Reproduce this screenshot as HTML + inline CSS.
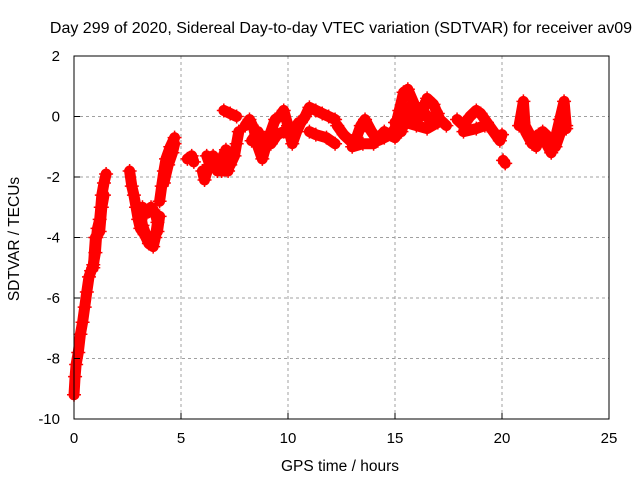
<!DOCTYPE html>
<html><head><meta charset="utf-8"><style>
body{margin:0;background:#fff;}
svg{display:block;font-family:"Liberation Sans",sans-serif;}
</style></head><body>
<svg id="chart" width="640" height="480" viewBox="0 0 640 480" xmlns="http://www.w3.org/2000/svg">
<text x="341" y="33" font-size="16" text-anchor="middle">Day 299 of 2020, Sidereal Day-to-day VTEC variation (SDTVAR) for receiver av09</text>
<g id="grid"></g>
<g id="marks"></g>
<rect x="74" y="56" width="535" height="363" fill="none" stroke="#000" stroke-width="1"/>
<g id="axes"></g>
<text x="340" y="471" font-size="15.5" text-anchor="middle">GPS time / hours</text>
<text x="19" y="239" font-size="15.5" text-anchor="middle" transform="rotate(-90 19 239)">SDTVAR / TECUs</text>
</svg>
<script>
const xTicks=[0,5,10,15,20,25];
const yTicks=[-10,-8,-6,-4,-2,0,2];
const track1=[[0,-9.2],[0.05,-8.6],[0.1,-8.2],[0.2,-7.8],[0.3,-7.2],[0.4,-6.8],[0.5,-6.3],[0.6,-5.8],[0.7,-5.3],[0.8,-5.1],[0.9,-4.9],[1.0,-4.5],[1.05,-4.0],[1.1,-3.7],[1.2,-3.4],[1.25,-3.0],[1.3,-2.6],[1.4,-2.2],[1.5,-1.9]];
const track1b=[[0.9,-5.0],[1.0,-4.0],[1.2,-3.8],[1.3,-3.0],[1.4,-2.6]];
const track2=[[2.6,-1.8],[2.7,-2.3],[2.8,-2.6],[2.9,-3.0],[3.0,-3.4],[3.1,-3.7],[3.3,-3.9],[3.5,-4.2],[3.7,-4.3],[3.8,-4.0],[3.9,-3.5],[3.8,-3.2],[3.6,-3.0],[3.4,-3.2],[3.2,-3.0]];
const track2b=[[3.1,-3.2],[3.2,-3.6],[3.4,-4.0],[3.6,-4.1],[3.9,-3.8],[4.0,-3.3]];
const track3=[[4.0,-2.8],[4.1,-2.3],[4.2,-1.8],[4.3,-1.4],[4.5,-1.0],[4.7,-0.7]];
const track3b=[[4.2,-2.2],[4.4,-1.6],[4.6,-1.2],[4.7,-0.9]];
const track4=[[5.3,-1.4],[5.5,-1.3],[5.6,-1.5]];
const track5=[[6.0,-1.8],[6.1,-2.1],[6.3,-1.6],[6.5,-1.3],[6.7,-1.8],[6.9,-1.4],[7.1,-1.1],[7.3,-1.6],[7.5,-1.3],[7.6,-0.9],[7.7,-0.5]];
const track5b=[[6.2,-1.3],[6.4,-1.7],[6.6,-1.5],[6.9,-1.8],[7.2,-1.8],[7.4,-1.2]];
const track6=[[7.0,0.2],[7.3,0.1],[7.6,0.0]];
const track7=[[8.0,-0.3],[8.2,-0.1],[8.4,-0.4],[8.6,-1.0],[8.8,-1.4],[9.0,-0.9],[9.2,-0.5],[9.4,-0.1],[9.6,0.0],[9.8,0.2],[10.0,-0.3],[10.2,-0.9],[10.4,-0.5],[10.6,-0.2],[10.8,0.0],[11.0,0.3],[11.3,0.2],[11.6,0.1],[11.9,0.0],[12.2,-0.1]];
const track7b=[[8.3,-0.8],[8.6,-0.5],[8.9,-0.9],[9.2,-0.9],[9.5,-0.6],[9.8,-0.5],[10.1,-0.6],[10.5,-0.2]];
const track8=[[11.0,-0.5],[11.3,-0.6],[11.8,-0.7],[12.2,-0.9]];
const track9=[[12.3,-0.3],[12.6,-0.6],[12.9,-0.8],[13.2,-0.7],[13.4,-0.3],[13.6,-0.1],[13.9,-0.5],[14.2,-0.8],[14.5,-0.7],[14.8,-0.6],[15.0,-0.4],[15.2,0.2],[15.4,0.8],[15.6,0.9],[15.9,0.4],[16.2,0.0],[16.5,0.6],[16.8,0.4],[17.1,-0.1],[17.4,-0.3]];
const track10=[[13.0,-1.0],[13.5,-0.9],[14.0,-0.9],[14.5,-0.5],[15.0,-0.7],[15.5,-0.2],[16.0,-0.3],[16.5,-0.4],[17.0,-0.2]];
const track10b=[[15.0,-0.2],[15.3,-0.5],[15.6,0.3],[15.9,-0.1],[16.2,0.3],[16.6,-0.1],[17.0,0.1]];
const track11=[[17.9,-0.1],[18.2,-0.3],[18.5,0.0],[18.8,0.2],[19.0,0.1],[19.3,-0.2],[19.6,-0.5],[19.9,-0.8],[20.0,-0.6]];
const track12=[[18.2,-0.5],[18.8,-0.4],[19.2,-0.3]];
const track13=[[20.05,-1.45],[20.15,-1.55]];
const track14=[[20.8,-0.3],[21.0,0.5],[21.1,-0.5],[21.4,-0.9],[21.7,-0.6],[22.0,-0.8],[22.3,-1.2],[22.5,-0.7],[22.7,-0.1],[22.9,0.5],[23.0,-0.3]];
const track14b=[[21.0,-0.2],[21.3,-0.6],[21.6,-1.0],[21.9,-0.5],[22.2,-0.7],[22.5,-1.0],[22.8,-0.4],[23.0,-0.4]];
const tracks=[track1,track1b,track2,track2b,track3,track3b,track4,track5,track5b,track6,track7,track7b,track8,track9,track10,track10b,track11,track12,track13,track14,track14b];

const NS="http://www.w3.org/2000/svg";
const X0=74,X1=609,Y0=419,Y1=56;
function sx(v){return X0+(v-0)/(25-0)*(X1-X0);}
function sy(v){return Y0-(v+10)/(2+10)*(Y0-Y1);}
const grid=document.getElementById('grid'),axes=document.getElementById('axes'),marks=document.getElementById('marks');
function mk(tag,attrs,parent){const e=document.createElementNS(NS,tag);for(const k in attrs)e.setAttribute(k,attrs[k]);parent.appendChild(e);return e;}
xTicks.forEach(t=>{
  const x=sx(t);
  if(t>0&&t<25){const g=mk('line',{x1:x,x2:x,y1:Y1,y2:Y0,stroke:'#a0a0a0','stroke-dasharray':'3,3'},grid);
  
  }
  const l=mk('line',{x1:x,x2:x,y1:Y0,y2:Y0-6,stroke:'#000'},axes);
  
  
  const tx=mk('text',{x:x,y:Y0+24,'font-size':15,'text-anchor':'middle'},axes);tx.textContent=t;
  
  
});
yTicks.forEach(t=>{
  const y=sy(t);
  if(t>-10&&t<2){const g=mk('line',{x1:X0,x2:X1,y1:y,y2:y,stroke:'#a0a0a0','stroke-dasharray':'3,3'},grid);
  
  }
  const l=mk('line',{x1:X0,x2:X0+6,y1:y,y2:y,stroke:'#000'},axes);
  
  
  const tx=mk('text',{x:X0-14,y:y+5,'font-size':15,'text-anchor':'end'},axes);tx.textContent=t;
  
  
});
tracks.forEach(tr=>{
  const d=tr.map((p,i)=>(i?'L':'M')+sx(p[0]).toFixed(1)+' '+sy(p[1]).toFixed(1)).join(' ');
  const path=mk('path',{d:d,fill:'none',stroke:'#ff0000','stroke-width':11,'stroke-linejoin':'round','stroke-linecap':'round'},marks);
  
  
  tr.forEach(p=>{
    const x=sx(p[0]),y=sy(p[1]);
    const m=mk('path',{d:`M${x-7} ${y}H${x+7}M${x} ${y-7}V${y+7}`,stroke:'#ff0000','stroke-width':1.5},marks);
    
    
  });
});
</script>
</body></html>
